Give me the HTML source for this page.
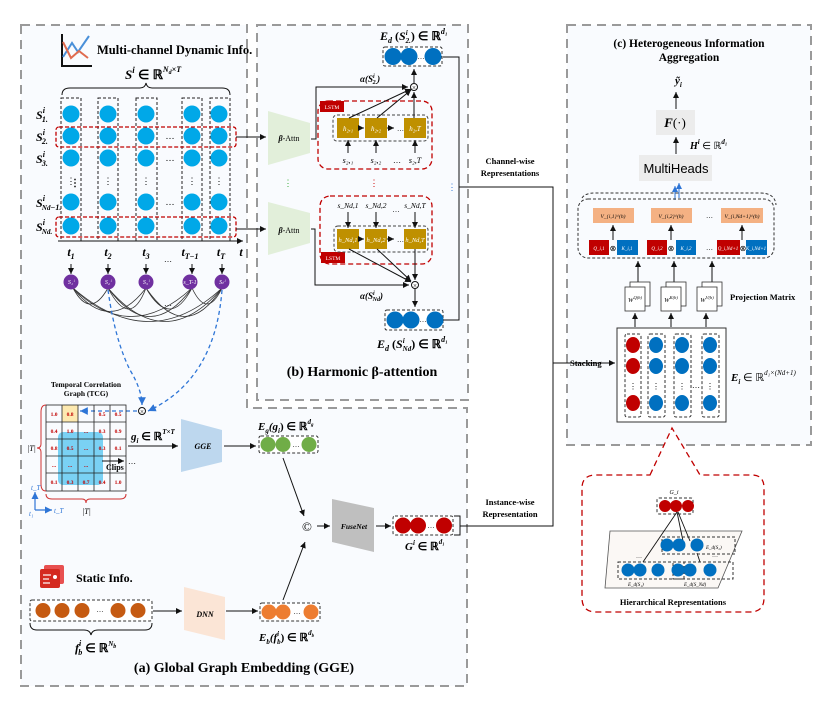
<!DOCTYPE html>
<html><head><meta charset="utf-8"><style>
html,body{margin:0;padding:0;background:#fff}
svg{display:block;font-family:"Liberation Serif",serif}
.b{font-weight:bold}
.m{font-style:italic;font-weight:bold}
</style></head><body>
<svg width="830" height="708" viewBox="0 0 830 708" xmlns="http://www.w3.org/2000/svg">
<defs>
<marker id="ar" markerWidth="7" markerHeight="7" refX="6" refY="3.5" orient="auto"><path d="M0,0.5 L6,3.5 L0,6.5z" fill="#111"/></marker>
<marker id="ab" markerWidth="7" markerHeight="7" refX="6" refY="3.5" orient="auto"><path d="M0,0.5 L6,3.5 L0,6.5z" fill="#2e75d6"/></marker>
</defs>
<!-- panels -->
<path d="M21,25 H247 V408 H467 V686 H21 Z" fill="#f9fbfe" stroke="#9a9a9a" stroke-width="2" stroke-dasharray="9,6"/>
<rect x="257" y="25" width="211" height="375" fill="#f9fbfe" stroke="#9a9a9a" stroke-width="2" stroke-dasharray="9,6"/>
<rect x="567" y="25" width="244" height="420" fill="#f9fbfe" stroke="#9a9a9a" stroke-width="2" stroke-dasharray="9,6"/>

<!-- panel a top: icon -->
<g stroke-width="2" fill="none">
<path d="M62,34 V66 H92" stroke="#111"/>
<path d="M63,57 L72,43 L78,52 L89,36" stroke="#4a90d9"/>
<path d="M63,42 L71,58 L79,51 L88,58" stroke="#e06b4f"/>
</g>
<text x="97" y="54" class="b" font-size="12.5">Multi-channel Dynamic Info.</text>
<text x="125" y="79" class="m" font-size="13">S<tspan font-size="9" dy="-6">i</tspan><tspan dy="6" font-style="normal"> ∈ ℝ</tspan><tspan font-size="8" dy="-7">N</tspan><tspan font-size="6" dy="2">d</tspan><tspan font-size="8" dy="-2">×T</tspan></text>
<path d="M62,95 Q62,88 70,88 H140 Q145,88 146,83 Q147,88 152,88 H222 Q230,88 230,95" fill="none" stroke="#111"/>
<g fill="none" stroke="#222" stroke-dasharray="3,2">
<rect x="61" y="98" width="20" height="143"/><rect x="98" y="98" width="20" height="143"/><rect x="136" y="98" width="21" height="143"/><rect x="182" y="98" width="20" height="143"/><rect x="210" y="98" width="20" height="143"/>
</g>
<g fill="#00a8e8">
<circle cx="71" cy="114" r="8.5"/><circle cx="108" cy="114" r="8.5"/><circle cx="146" cy="114" r="8.5"/><circle cx="192" cy="114" r="8.5"/><circle cx="219" cy="114" r="8.5"/>
<circle cx="71" cy="136" r="8.5"/><circle cx="108" cy="136" r="8.5"/><circle cx="146" cy="136" r="8.5"/><circle cx="192" cy="136" r="8.5"/><circle cx="219" cy="136" r="8.5"/>
<circle cx="71" cy="158" r="8.5"/><circle cx="108" cy="158" r="8.5"/><circle cx="146" cy="158" r="8.5"/><circle cx="192" cy="158" r="8.5"/><circle cx="219" cy="158" r="8.5"/>
<circle cx="71" cy="202" r="8.5"/><circle cx="108" cy="202" r="8.5"/><circle cx="146" cy="202" r="8.5"/><circle cx="192" cy="202" r="8.5"/><circle cx="219" cy="202" r="8.5"/>
<circle cx="71" cy="226" r="8.5"/><circle cx="108" cy="226" r="8.5"/><circle cx="146" cy="226" r="8.5"/><circle cx="192" cy="226" r="8.5"/><circle cx="219" cy="226" r="8.5"/>
</g>
<g font-size="9" text-anchor="middle"><text x="170" y="139">…</text><text x="170" y="161">…</text><text x="170" y="205">…</text>
<text x="71" y="184">⋮</text><text x="108" y="184">⋮</text><text x="146" y="184">⋮</text><text x="192" y="184">⋮</text><text x="219" y="184">⋮</text></g>
<g fill="none" stroke="#c00000" stroke-width="1.3" stroke-dasharray="4,2">
<rect x="56" y="127" width="180" height="20" rx="3"/><rect x="56" y="217" width="180" height="20" rx="3"/>
</g>
<g class="m" font-size="12">
<text x="36" y="119">S<tspan font-size="8" dy="-6">i</tspan><tspan font-size="8" dx="-3" dy="9">1.</tspan></text>
<text x="36" y="141">S<tspan font-size="8" dy="-6">i</tspan><tspan font-size="8" dx="-3" dy="9">2.</tspan></text>
<text x="36" y="163">S<tspan font-size="8" dy="-6">i</tspan><tspan font-size="8" dx="-3" dy="9">3.</tspan></text>
<text x="70" y="186" font-size="10" font-style="normal">⋮</text>
<text x="36" y="207">S<tspan font-size="8" dy="-6">i</tspan><tspan font-size="7" dx="-3" dy="9">N</tspan><tspan font-size="7">d</tspan><tspan font-size="8">−1.</tspan></text>
<text x="36" y="231">S<tspan font-size="8" dy="-6">i</tspan><tspan font-size="7" dx="-3" dy="9">Nd.</tspan></text>
</g>
<line x1="58" y1="241" x2="243" y2="241" stroke="#111" marker-end="url(#ar)"/>
<g class="m" font-size="12" text-anchor="middle">
<text x="71" y="256">t<tspan font-size="8" dy="3">1</tspan></text><text x="108" y="256">t<tspan font-size="8" dy="3">2</tspan></text><text x="146" y="256">t<tspan font-size="8" dy="3">3</tspan></text><text x="190" y="256">t<tspan font-size="8" dy="3">T−1</tspan></text><text x="221" y="256">t<tspan font-size="8" dy="3">T</tspan></text><text x="241" y="256">t</text>
</g>
<text x="168" y="262" font-size="8" text-anchor="middle">…</text>
<g stroke="#111" marker-end="url(#ar)"><line x1="71" y1="264" x2="71" y2="274"/><line x1="108" y1="264" x2="108" y2="274"/><line x1="146" y1="264" x2="146" y2="274"/><line x1="192" y1="264" x2="192" y2="274"/><line x1="222" y1="264" x2="222" y2="274"/></g>
<g fill="none" stroke="#333" stroke-width="0.8">
<path d="M73,288 Q110,335 146,288"/><path d="M73,288 Q130,345 192,288"/><path d="M73,288 Q150,355 222,288"/><path d="M108,288 Q130,330 146,288"/><path d="M108,288 Q150,345 192,288"/><path d="M108,288 Q165,355 222,288"/><path d="M146,288 Q170,330 192,288"/><path d="M146,288 Q185,345 222,288"/><path d="M192,288 Q207,320 222,288"/><path d="M73,288 Q90,320 108,288"/>
</g>
<g fill="#7030a0"><circle cx="71" cy="282" r="7.5"/><circle cx="108" cy="282" r="7.5"/><circle cx="146" cy="282" r="7.5"/><circle cx="190" cy="282" r="7.5"/><circle cx="222" cy="282" r="7.5"/></g>
<g fill="#fff" font-size="6" text-anchor="middle" font-style="italic"><text x="71" y="284">S₁ⁱ</text><text x="108" y="284">S₂ⁱ</text><text x="146" y="284">S₃ⁱ</text><text x="190" y="284">s_T-1</text><text x="222" y="284">Sₜⁱ</text></g>
<text x="168" y="306" font-size="8" text-anchor="middle">…</text>
<g fill="none" stroke="#2e75d6" stroke-width="1.3" stroke-dasharray="4,3">
<path d="M108,290 Q115,340 130,370 Q142,390 142,405" marker-end="url(#ab)"/>
<path d="M222,290 Q215,380 148,411" marker-end="url(#ab)"/>
<line x1="137" y1="411" x2="80" y2="411" marker-end="url(#ab)"/>
</g>
<circle cx="142" cy="411" r="3.5" fill="#fff" stroke="#111"/><text x="142" y="414" font-size="7" text-anchor="middle">×</text>

<!-- TCG -->
<text x="86" y="387" class="b" font-size="7.5" text-anchor="middle">Temporal Correlation</text>
<text x="86" y="396" class="b" font-size="7.5" text-anchor="middle">Graph (TCG)</text>
<rect x="62" y="405" width="16" height="17" fill="#fde9b0"/>
<rect x="58" y="432" width="45" height="53" rx="5" fill="#4fc3f0" opacity="0.75"/>
<g stroke="#222" fill="none" stroke-width="0.8">
<rect x="46" y="405" width="80" height="86"/>
<line x1="62" y1="405" x2="62" y2="491"/><line x1="78" y1="405" x2="78" y2="491"/><line x1="94" y1="405" x2="94" y2="491"/><line x1="110" y1="405" x2="110" y2="491"/>
<line x1="46" y1="422" x2="126" y2="422"/><line x1="46" y1="439" x2="126" y2="439"/><line x1="46" y1="456" x2="126" y2="456"/><line x1="46" y1="473" x2="126" y2="473"/>
</g>
<g font-size="5.5" fill="#c00000" text-anchor="middle" class="b">
<text x="54" y="416">1.0</text><text x="70" y="416">0.8</text><text x="102" y="416">0.5</text><text x="118" y="416">0.5</text>
<text x="54" y="433">0.4</text><text x="70" y="433">1.0</text><text x="86" y="433">...</text><text x="102" y="433">0.3</text><text x="118" y="433">0.9</text>
<text x="54" y="450">0.8</text><text x="70" y="450">0.5</text><text x="86" y="450">...</text><text x="102" y="450">0.3</text><text x="118" y="450">0.1</text>
<text x="54" y="467">...</text><text x="70" y="467">...</text><text x="86" y="467">...</text>
<text x="54" y="484">0.1</text><text x="70" y="484">0.3</text><text x="86" y="484">0.7</text><text x="102" y="484">0.4</text><text x="118" y="484">1.0</text>
</g>
<line x1="102" y1="461" x2="124" y2="461" stroke="#111" marker-end="url(#ar)"/>
<text x="106" y="470" class="b" font-size="8">Clips</text><text x="128" y="464" font-size="8">…</text>
<path d="M46,405 Q41,405 41,412 V444 Q41,448 37,448 Q41,448 41,452 V484 Q41,491 46,491" fill="none" stroke="#d03030"/>
<path d="M46,494 Q46,499 52,499 H82 Q86,499 86,503 Q86,499 90,499 H120 Q126,499 126,494" fill="none" stroke="#d03030"/>
<text x="27" y="451" font-size="8" font-style="italic">|T|</text>
<text x="82" y="514" font-size="8" font-style="italic">|T|</text>
<g stroke="#2e75d6" stroke-width="1.2"><line x1="35" y1="510" x2="35" y2="492" marker-end="url(#ab)"/><line x1="35" y1="510" x2="52" y2="510" marker-end="url(#ab)"/></g>
<g fill="#2e75d6" font-size="7" font-style="italic"><text x="31" y="490">t_T</text><text x="29" y="516">t₁</text><text x="54" y="513">t_T</text></g>

<text x="131" y="440" class="m" font-size="11">g<tspan font-size="7" dy="3">i</tspan><tspan dy="-3" font-style="normal"> ∈ ℝ</tspan><tspan font-size="7" dy="-6">T×T</tspan></text>
<line x1="128" y1="446" x2="178" y2="446" stroke="#111" marker-end="url(#ar)"/>
<path d="M181,419 L222,430 L222,462 L181,472Z" fill="#bdd7ee"/>
<text x="203" y="449" font-size="8" class="m" text-anchor="middle">GGE</text>
<line x1="224" y1="446" x2="256" y2="446" stroke="#111" marker-end="url(#ar)"/>
<text x="258" y="430" class="m" font-size="11">E<tspan font-size="7" dy="3">g</tspan><tspan dy="-3">(g</tspan><tspan font-size="7" dy="3">i</tspan><tspan dy="-3" font-style="normal">) ∈ ℝ</tspan><tspan font-size="7" dy="-6">d</tspan><tspan font-size="5" dy="2">g</tspan></text>
<rect x="259" y="436" width="59" height="17" rx="2" fill="#fff" stroke="#333" stroke-dasharray="3,2"/>
<g fill="#70ad47"><circle cx="268" cy="444.5" r="7.5"/><circle cx="283" cy="444.5" r="7.5"/><circle cx="309" cy="444.5" r="7.5"/></g>
<text x="296" y="447" font-size="7" text-anchor="middle">…</text>

<!-- static -->
<rect x="44" y="565" width="20" height="19" fill="#e85050" rx="2"/><rect x="40" y="569" width="20" height="19" fill="#d42a20" rx="2"/>
<g stroke="#fff" stroke-width="1.2"><line x1="43" y1="575" x2="51" y2="575"/><line x1="43" y1="579" x2="49" y2="579"/><line x1="43" y1="583" x2="50" y2="583"/></g>
<circle cx="55" cy="577" r="2" fill="#fff"/>
<text x="76" y="582" class="b" font-size="12">Static Info.</text>
<rect x="30" y="600" width="122" height="21" rx="2" fill="#fff" stroke="#333" stroke-dasharray="3,2"/>
<g fill="#c55a11"><circle cx="43" cy="610.5" r="7.5"/><circle cx="62" cy="610.5" r="7.5"/><circle cx="82" cy="610.5" r="7.5"/><circle cx="118" cy="610.5" r="7.5"/><circle cx="138" cy="610.5" r="7.5"/></g>
<text x="100" y="612" font-size="7" text-anchor="middle">…</text>
<path d="M30,623 Q30,630 37,630 H84 Q90,630 91,635 Q92,630 98,630 H145 Q152,630 152,623" fill="none" stroke="#111"/>
<text x="75" y="652" class="m" font-size="12">f<tspan font-size="8" dy="-6">i</tspan><tspan font-size="8" dx="-3" dy="9">b</tspan><tspan dy="-3" font-style="normal"> ∈ ℝ</tspan><tspan font-size="7" dy="-6">N</tspan><tspan font-size="6" dy="2">b</tspan></text>
<line x1="153" y1="611" x2="182" y2="611" stroke="#111" marker-end="url(#ar)"/>
<path d="M184,587 L225,597 L225,640 L184,630Z" fill="#fbe5d6"/>
<text x="205" y="617" font-size="8" class="m" text-anchor="middle">DNN</text>
<line x1="226" y1="611" x2="258" y2="611" stroke="#111" marker-end="url(#ar)"/>
<rect x="260" y="603" width="60" height="18" rx="2" fill="#fff" stroke="#333" stroke-dasharray="3,2"/>
<g fill="#ed7d31"><circle cx="269" cy="612" r="7.5"/><circle cx="283" cy="612" r="7.5"/><circle cx="311" cy="612" r="7.5"/></g>
<text x="297" y="614" font-size="7" text-anchor="middle">…</text>
<text x="259" y="641" class="m" font-size="11">E<tspan font-size="7" dy="3">b</tspan><tspan dy="-3">(f</tspan><tspan font-size="7" dy="-5">i</tspan><tspan font-size="7" dx="-2" dy="8">b</tspan><tspan dy="-3" font-style="normal">) ∈ ℝ</tspan><tspan font-size="7" dy="-6">d</tspan><tspan font-size="5" dy="2">b</tspan></text>
<line x1="283" y1="458" x2="304" y2="516" stroke="#111" marker-end="url(#ar)"/>
<line x1="283" y1="600" x2="305" y2="542" stroke="#111" marker-end="url(#ar)"/>
<text x="307" y="531" font-size="13" text-anchor="middle">©</text>
<line x1="317" y1="526" x2="330" y2="526" stroke="#111" marker-end="url(#ar)"/>
<path d="M332,499 L374,508 L374,552 L332,542Z" fill="#bfbfbf"/>
<text x="354" y="529" font-size="7.5" class="m" text-anchor="middle">FuseNet</text>
<line x1="376" y1="526" x2="391" y2="526" stroke="#111" marker-end="url(#ar)"/>
<rect x="393" y="516" width="60" height="19" rx="2" fill="#fff" stroke="#333" stroke-dasharray="3,2"/>
<g fill="#c00000"><circle cx="403" cy="525.5" r="8"/><circle cx="418" cy="525.5" r="8"/><circle cx="444" cy="525.5" r="8"/></g>
<text x="431" y="528" font-size="7" text-anchor="middle">…</text>
<path d="M454,516 H460 V535 H454" fill="none" stroke="#111"/>
<text x="405" y="550" class="m" font-size="11">G<tspan font-size="7" dy="-5">i</tspan><tspan dy="5" font-style="normal"> ∈ ℝ</tspan><tspan font-size="7" dy="-6">d₁</tspan></text>
<text x="244" y="672" class="b" font-size="14" text-anchor="middle">(a) Global Graph Embedding (GGE)</text>

<!-- panel b -->
<line x1="236" y1="137" x2="266" y2="137" stroke="#111" marker-end="url(#ar)"/>
<line x1="236" y1="229" x2="266" y2="229" stroke="#111" marker-end="url(#ar)"/>
<path d="M268,111 L310,123 L310,153 L268,165Z" fill="#e2efda"/>
<path d="M268,202 L310,213 L310,243 L268,255Z" fill="#e2efda"/>
<text x="289" y="141" font-size="8" text-anchor="middle"><tspan class="m">β</tspan>-Attn</text>
<text x="289" y="233" font-size="8" text-anchor="middle"><tspan class="m">β</tspan>-Attn</text>
<text x="288" y="186" font-size="9" fill="#3a3" text-anchor="middle">⋮</text>
<text x="374" y="186" font-size="9" fill="#c00" text-anchor="middle">⋮</text>
<text x="452" y="190" font-size="9" fill="#2e75d6" text-anchor="middle">⋮</text>

<text x="380" y="40" class="m" font-size="12">E<tspan font-size="8" dy="3">d</tspan><tspan dy="-3" font-style="normal"> (</tspan>S<tspan font-size="7" dy="-5">i</tspan><tspan font-size="7" dx="-2" dy="8">2.</tspan><tspan dy="-3" font-style="normal">) ∈ ℝ</tspan><tspan font-size="8" dy="-6">d₁</tspan></text>
<rect x="383" y="47" width="59" height="19" rx="2" fill="#fff" stroke="#333" stroke-dasharray="3,2"/>
<g fill="#0070c0"><circle cx="393" cy="56.5" r="8.5"/><circle cx="409" cy="56.5" r="8.5"/><circle cx="433" cy="56.5" r="8.5"/></g>
<text x="421" y="59" font-size="7" text-anchor="middle">…</text>
<line x1="414" y1="83" x2="414" y2="69" stroke="#111" marker-end="url(#ar)"/>
<circle cx="414" cy="87" r="3.5" fill="#fff" stroke="#111"/><text x="414" y="90" font-size="7" text-anchor="middle">×</text>
<path d="M311,139 H316 V87 H408" fill="none" stroke="#111" marker-end="url(#ar)"/>
<text x="360" y="82" class="m" font-size="9" font-weight="normal">α(S<tspan font-size="6" dy="-4">i</tspan><tspan font-size="6" dx="-2" dy="6">2.</tspan><tspan dy="-2">)</tspan></text>
<rect x="318" y="101" width="114" height="68" rx="10" fill="none" stroke="#c00000" stroke-width="1.3" stroke-dasharray="5,3"/>
<rect x="320" y="101" width="24" height="11" fill="#c00000"/><text x="332" y="109" font-size="5.5" fill="#fff" text-anchor="middle">LSTM</text>
<rect x="333" y="115" width="95" height="26" rx="4" fill="none" stroke="#444" stroke-dasharray="3,2"/>
<g fill="#bf9000"><rect x="337" y="118" width="22" height="20"/><rect x="365" y="118" width="22" height="20"/><rect x="404" y="118" width="22" height="20"/></g>
<g fill="#fff" font-size="7" text-anchor="middle" font-style="italic"><text x="348" y="131">h₂,₁</text><text x="376" y="131">h₂,₂</text><text x="415" y="131">h₂,T</text></g>
<g stroke="#111" marker-end="url(#ar)"><line x1="359" y1="128" x2="364" y2="128"/><line x1="387" y1="128" x2="394" y2="128"/><line x1="348" y1="153" x2="348" y2="140"/><line x1="376" y1="153" x2="376" y2="140"/><line x1="415" y1="153" x2="415" y2="140"/>
<line x1="349" y1="118" x2="411" y2="89"/><line x1="377" y1="118" x2="411" y2="90"/><line x1="414" y1="118" x2="414" y2="92"/></g>
<text x="397" y="131" font-size="7">…</text>
<g font-size="8" font-style="italic" text-anchor="middle"><text x="348" y="163">s₂,₁</text><text x="376" y="163">s₂,₂</text><text x="397" y="163" font-style="normal">…</text><text x="415" y="163">s₂,T</text></g>

<rect x="320" y="196" width="112" height="68" rx="10" fill="none" stroke="#c00000" stroke-width="1.3" stroke-dasharray="5,3"/>
<rect x="321" y="252" width="24" height="11" fill="#c00000"/><text x="333" y="260" font-size="5.5" fill="#fff" text-anchor="middle">LSTM</text>
<g font-size="7.5" font-style="italic" text-anchor="middle"><text x="348" y="208">s_Nd,1</text><text x="376" y="208">s_Nd,2</text><text x="396" y="212" font-style="normal">…</text><text x="415" y="208">s_Nd,T</text></g>
<rect x="334" y="226" width="94" height="26" rx="4" fill="none" stroke="#444" stroke-dasharray="3,2"/>
<g fill="#bf9000"><rect x="337" y="229" width="22" height="20"/><rect x="365" y="229" width="22" height="20"/><rect x="404" y="229" width="22" height="20"/></g>
<g fill="#fff" font-size="6.5" text-anchor="middle" font-style="italic"><text x="348" y="242">h_Nd,1</text><text x="376" y="242">h_Nd,2</text><text x="415" y="242">h_Nd,T</text></g>
<g stroke="#111" marker-end="url(#ar)"><line x1="359" y1="239" x2="364" y2="239"/><line x1="387" y1="239" x2="394" y2="239"/><line x1="348" y1="212" x2="348" y2="228"/><line x1="376" y1="212" x2="376" y2="228"/><line x1="415" y1="212" x2="415" y2="228"/>
<line x1="349" y1="249" x2="411" y2="282"/><line x1="377" y1="249" x2="411" y2="281"/><line x1="415" y1="249" x2="415" y2="280"/></g>
<text x="397" y="242" font-size="7">…</text>
<circle cx="415" cy="285" r="3.5" fill="#fff" stroke="#111"/><text x="415" y="288" font-size="7" text-anchor="middle">×</text>
<path d="M311,229 H315 V285 H409" fill="none" stroke="#111" marker-end="url(#ar)"/>
<text x="360" y="299" class="m" font-size="9" font-weight="normal">α(S<tspan font-size="6" dy="-4">i</tspan><tspan font-size="6" dx="-2" dy="6">Nd</tspan><tspan dy="-2">)</tspan></text>
<line x1="415" y1="289" x2="415" y2="307" stroke="#111" marker-end="url(#ar)"/>
<rect x="385" y="310" width="58" height="20" rx="2" fill="#fff" stroke="#333" stroke-dasharray="3,2"/>
<g fill="#0070c0"><circle cx="395" cy="320" r="8.5"/><circle cx="411" cy="320" r="8.5"/><circle cx="435" cy="320" r="8.5"/></g>
<text x="423" y="322" font-size="7" text-anchor="middle">…</text>
<text x="377" y="348" class="m" font-size="12">E<tspan font-size="8" dy="3">d</tspan><tspan dy="-3" font-style="normal"> (</tspan>S<tspan font-size="7" dy="-5">i</tspan><tspan font-size="7" dx="-2" dy="8">Nd</tspan><tspan dy="-3" font-style="normal">) ∈ ℝ</tspan><tspan font-size="8" dy="-6">d₁</tspan></text>
<text x="362" y="376" class="b" font-size="14" text-anchor="middle">(b) Harmonic β-attention</text>

<!-- connectors -->
<path d="M443,57 H459 V320 H443" fill="none" stroke="#111"/>
<path d="M459,187 H553 V526 H460" fill="none" stroke="#111"/>
<line x1="553" y1="363" x2="615" y2="363" stroke="#111" marker-end="url(#ar)"/>
<text x="510" y="164" class="b" font-size="8.5" text-anchor="middle">Channel-wise</text>
<text x="510" y="176" class="b" font-size="8.5" text-anchor="middle">Representations</text>
<text x="510" y="505" class="b" font-size="8.5" text-anchor="middle">Instance-wise</text>
<text x="510" y="517" class="b" font-size="8.5" text-anchor="middle">Representation</text>
<text x="570" y="366" class="b" font-size="8.5">Stacking</text>

<!-- panel c -->
<text x="689" y="47" class="b" font-size="11.5" text-anchor="middle">(c) Heterogeneous Information</text>
<text x="689" y="61" class="b" font-size="11.5" text-anchor="middle">Aggregation</text>
<text x="675" y="84" class="m" font-size="11">ỹ<tspan font-size="7" dy="3">i</tspan></text>
<line x1="676" y1="109" x2="676" y2="92" stroke="#111" marker-end="url(#ar)"/>
<rect x="656" y="110" width="39" height="25" fill="#ececec"/>
<text x="675" y="127" class="m" font-size="13" text-anchor="middle">F<tspan font-style="normal" font-weight="normal">(·)</tspan></text>
<line x1="676" y1="154" x2="676" y2="137" stroke="#111" marker-end="url(#ar)"/>
<text x="690" y="149" class="m" font-size="10">H<tspan font-size="7" dy="-5">i</tspan><tspan dy="5" font-style="normal" font-weight="normal"> ∈ ℝ</tspan><tspan font-size="7" dy="-5">d₁</tspan></text>
<rect x="639" y="155" width="73" height="26" fill="#ececec"/>
<text x="676" y="173" font-size="13" font-family="Liberation Sans,sans-serif" text-anchor="middle">MultiHeads</text>
<g stroke="#2e75d6" marker-end="url(#ab)"><line x1="675" y1="200" x2="675" y2="186"/><line x1="679" y1="198" x2="679" y2="183"/></g>
<rect x="578" y="199" width="196" height="59" rx="10" fill="none" stroke="#333" stroke-dasharray="3,2"/>
<path d="M582,198 Q585,193 595,193 H760 Q775,193 776,205" fill="none" stroke="#333" stroke-dasharray="3,2"/>
<g fill="#f4b183"><rect x="593" y="208" width="41" height="15"/><rect x="651" y="208" width="41" height="15"/><rect x="721" y="208" width="42" height="15"/></g>
<g font-size="5.5" text-anchor="middle" font-style="italic"><text x="613" y="218">V_{i,1}^(h)</text><text x="671" y="218">V_{i,2}^(h)</text><text x="742" y="218">V_{i,Nd+1}^(h)</text></g>
<text x="706" y="218" font-size="7">…</text><text x="706" y="250" font-size="7">…</text>
<g fill="#c00000"><rect x="589" y="240" width="20" height="15"/><rect x="647" y="240" width="20" height="15"/><rect x="717" y="240" width="23" height="15"/></g>
<g fill="#0070c0"><rect x="617" y="240" width="21" height="15"/><rect x="676" y="240" width="20" height="15"/><rect x="746" y="240" width="21" height="15"/></g>
<g font-size="5" fill="#fff" text-anchor="middle" font-style="italic"><text x="599" y="250">Q_i,1</text><text x="627" y="250">K_i,1</text><text x="657" y="250">Q_i,2</text><text x="686" y="250">K_i,2</text><text x="728" y="250">Q_i,Nd+1</text><text x="756" y="250">K_i,Nd+1</text></g>
<g font-size="8" text-anchor="middle"><text x="613" y="251">⊗</text><text x="671" y="251">⊗</text><text x="743" y="251">⊗</text></g>
<g stroke="#111" marker-end="url(#ar)"><line x1="613" y1="240" x2="613" y2="225"/><line x1="671" y1="240" x2="671" y2="225"/><line x1="742" y1="240" x2="742" y2="225"/>
<line x1="638" y1="284" x2="638" y2="261"/><line x1="674" y1="284" x2="674" y2="261"/><line x1="712" y1="284" x2="712" y2="261"/>
<line x1="635" y1="327" x2="635" y2="313"/><line x1="671" y1="327" x2="671" y2="313"/><line x1="706" y1="327" x2="706" y2="313"/></g>
<g fill="#fff" stroke="#333" stroke-width="0.8">
<rect x="630" y="282" width="20" height="24"/><rect x="625" y="287" width="20" height="24"/>
<rect x="666" y="282" width="20" height="24"/><rect x="661" y="287" width="20" height="24"/>
<rect x="702" y="282" width="20" height="24"/><rect x="697" y="287" width="20" height="24"/>
</g>
<g font-size="6.5" font-style="italic" text-anchor="middle"><text x="635" y="302">W<tspan font-size="4.5" dy="-3">Q(h)</tspan></text><text x="671" y="302">W<tspan font-size="4.5" dy="-3">K(h)</tspan></text><text x="707" y="302">W<tspan font-size="4.5" dy="-3">V(h)</tspan></text></g>
<text x="730" y="300" class="b" font-size="8.5">Projection Matrix</text>
<rect x="617" y="328" width="109" height="94" fill="#fff" stroke="#333"/>
<g fill="none" stroke="#333" stroke-dasharray="3,2"><rect x="625" y="334" width="16" height="83" rx="2"/><rect x="648" y="334" width="17" height="83" rx="2"/><rect x="674" y="334" width="17" height="83" rx="2"/><rect x="702" y="334" width="17" height="83" rx="2"/></g>
<g fill="#c00000"><ellipse cx="633" cy="345" rx="7" ry="8"/><ellipse cx="633" cy="366" rx="7" ry="8"/><ellipse cx="633" cy="403" rx="7" ry="8"/></g>
<g fill="#0070c0"><ellipse cx="656" cy="345" rx="7" ry="8"/><ellipse cx="656" cy="366" rx="7" ry="8"/><ellipse cx="656" cy="403" rx="7" ry="8"/>
<ellipse cx="682" cy="345" rx="7" ry="8"/><ellipse cx="682" cy="366" rx="7" ry="8"/><ellipse cx="682" cy="403" rx="7" ry="8"/>
<ellipse cx="710" cy="345" rx="7" ry="8"/><ellipse cx="710" cy="366" rx="7" ry="8"/><ellipse cx="710" cy="403" rx="7" ry="8"/></g>
<g font-size="8" text-anchor="middle"><text x="633" y="389">⋮</text><text x="656" y="389">⋮</text><text x="682" y="389">⋮</text><text x="710" y="389">⋮</text><text x="696" y="388">…</text></g>
<text x="731" y="381" class="m" font-size="11">E<tspan font-size="7" dy="3">i</tspan><tspan dy="-3" font-style="normal" font-weight="normal"> ∈ ℝ</tspan><tspan font-size="7" dy="-6" font-weight="normal">d₁×(Nd+1)</tspan></text>

<!-- hierarchical callout -->
<path d="M650,475 L672,428 L700,475 H752 Q764,475 764,488 V598 Q764,612 750,612 H596 Q582,612 582,598 V488 Q582,475 596,475 Z" fill="#fff" stroke="#c00000" stroke-width="1.3" stroke-dasharray="6,4"/>
<text x="674" y="494" font-size="6" font-style="italic" text-anchor="middle">G_i</text>
<rect x="657" y="498" width="36" height="16" rx="2" fill="none" stroke="#333" stroke-dasharray="3,2"/>
<g fill="#c00000"><circle cx="665" cy="506" r="6"/><circle cx="676" cy="506" r="6"/><circle cx="696" cy="506" r="0"/><circle cx="688" cy="506" r="6"/></g>
<path d="M610,531 H742 L718,588 H605 Z" fill="#fbf8f5" stroke="#555" stroke-width="0.8"/>
<g stroke="#111" stroke-width="0.9"><line x1="677" y1="512" x2="643" y2="562"/><line x1="677" y1="512" x2="683" y2="541"/><line x1="678" y1="512" x2="690" y2="541"/><line x1="697" y1="553" x2="700" y2="562"/></g>
<rect x="662" y="537" width="73" height="17" fill="none" stroke="#333" stroke-dasharray="3,2"/>
<rect x="618" y="562" width="66" height="17" fill="none" stroke="#333" stroke-dasharray="3,2"/>
<rect x="673" y="562" width="60" height="17" fill="none" stroke="#333" stroke-dasharray="3,2"/>
<g fill="#0070c0"><circle cx="667" cy="545" r="6.5"/><circle cx="679" cy="545" r="6.5"/><circle cx="697" cy="545" r="6.5"/>
<circle cx="628" cy="570" r="6.5"/><circle cx="640" cy="570" r="6.5"/><circle cx="658" cy="570" r="6.5"/>
<circle cx="678" cy="570" r="6.5"/><circle cx="690" cy="570" r="6.5"/><circle cx="710" cy="570" r="6.5"/></g>
<g font-size="5" font-style="italic"><text x="706" y="549">E_d(S₂)</text><text x="628" y="586">E_d(S₁)</text><text x="684" y="586">E_d(S_Nd)</text></g>
<g font-size="6"><text x="636" y="558">…</text><text x="712" y="557">…</text></g>
<text x="673" y="605" class="b" font-size="8.5" text-anchor="middle">Hierarchical Representations</text>
</svg>
</body></html>
